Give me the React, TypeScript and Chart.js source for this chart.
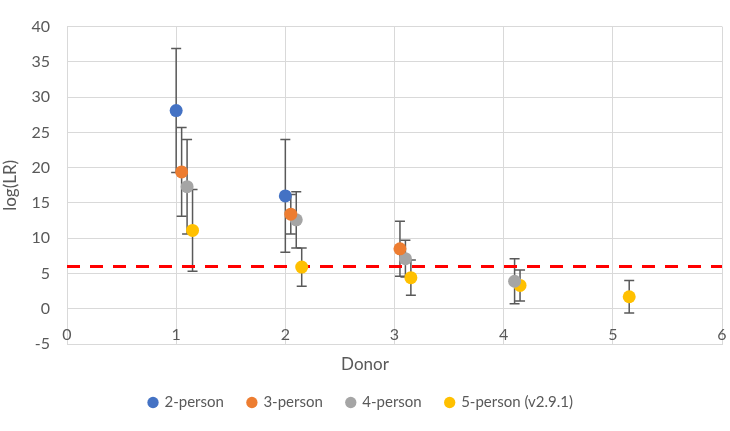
import React, { useEffect, useRef } from "react";
import { Chart, registerables } from "chart.js";

Chart.register(...registerables);

// ---- data ----
const seriesNames = ["2-person", "3-person", "4-person", "5-person (v2.9.1)"];
const seriesColors = ["#4472C4", "#ED7D31", "#A5A5A5", "#FFC000"];

const twoPersonX = [1, 2];
const twoPersonY = [28.1, 16.0];
const twoPersonErr = [8.8, 8.0];

const threePersonX = [1.05, 2.05, 3.05];
const threePersonY = [19.4, 13.4, 8.5];
const threePersonErr = [6.3, 2.8, 3.9];

const fourPersonX = [1.1, 2.1, 3.1, 4.1];
const fourPersonY = [17.3, 12.6, 7.1, 3.9];
const fourPersonErr = [6.7, 4.0, 2.6, 3.2];

const fivePersonX = [1.15, 2.15, 3.15, 4.15, 5.15];
const fivePersonY = [11.1, 5.9, 4.4, 3.3, 1.7];
const fivePersonErr = [5.8, 2.7, 2.5, 2.2, 2.3];

const thresholdY = 6;
const xMin = 0;
const xMax = 6;
const xStep = 1;
const yMin = -5;
const yMax = 40;
const yStep = 5;

const xTitle = "Donor";
const yTitle = "log(LR)";

const FONT = "Lato, 'Open Sans', sans-serif";
const TEXT = "#595959";
const GRID = "#d9d9d9";

const seriesX = [twoPersonX, threePersonX, fourPersonX, fivePersonX];
const seriesY = [twoPersonY, threePersonY, fourPersonY, fivePersonY];
const seriesErr = [twoPersonErr, threePersonErr, fourPersonErr, fivePersonErr];

const errorBarPlugin = {
  id: "errorBars",
  beforeDatasetsDraw(chart: any) {
    const { ctx } = chart;
    const x = chart.scales.x;
    const y = chart.scales.y;
    ctx.save();
    ctx.strokeStyle = "#595959";
    ctx.lineWidth = 1.5;
    chart.data.datasets.forEach((ds: any, i: number) => {
      if (!ds.errors || !chart.isDatasetVisible(i)) return;
      ds.data.forEach((p: any, j: number) => {
        const e = ds.errors[j];
        const px = x.getPixelForValue(p.x);
        const top = y.getPixelForValue(p.y + e);
        const bot = y.getPixelForValue(p.y - e);
        ctx.beginPath();
        ctx.moveTo(px, top);
        ctx.lineTo(px, bot);
        ctx.moveTo(px - 5, top);
        ctx.lineTo(px + 5, top);
        ctx.moveTo(px - 5, bot);
        ctx.lineTo(px + 5, bot);
        ctx.stroke();
      });
    });
    ctx.restore();
  },
};

const xLabelPlugin = {
  id: "xAxisLabelsAtZero",
  afterDraw(chart: any) {
    const { ctx, chartArea } = chart;
    const x = chart.scales.x;
    const y = chart.scales.y;
    const y0 = y.getPixelForValue(0);
    ctx.save();
    ctx.fillStyle = TEXT;
    ctx.font = `16px ${FONT}`;
    ctx.textAlign = "center";
    ctx.textBaseline = "middle";
    x.ticks.forEach((t: any) => {
      ctx.fillText(String(t.value), x.getPixelForValue(t.value), y0 + 26);
    });
    // axis title, centred on the whole chart as in the original
    ctx.font = `17px ${FONT}`;
    ctx.fillText(xTitle, chart.width / 2, chartArea.bottom + 21);
    ctx.restore();
  },
};

export default function App() {
  const ref = useRef<HTMLCanvasElement | null>(null);

  useEffect(() => {
    if (!ref.current) return;
    const datasets: any[] = seriesNames.map((name, i) => ({
      type: "scatter",
      label: name,
      data: seriesX[i].map((xv, j) => ({ x: xv, y: seriesY[i][j] })),
      errors: seriesErr[i],
      backgroundColor: seriesColors[i],
      borderColor: seriesColors[i],
      pointRadius: 6.5,
      pointHoverRadius: 6.5,
      pointStyle: "circle",
      borderWidth: 0,
      order: 1,
    }));
    datasets.push({
      type: "line",
      label: "threshold",
      data: [
        { x: xMin, y: thresholdY },
        { x: xMax, y: thresholdY },
      ],
      borderColor: "#FF0000",
      borderWidth: 3,
      borderDash: [13, 10],
      pointRadius: 0,
      fill: false,
      order: 5,
    });

    const chart = new Chart(ref.current, {
      type: "scatter",
      data: { datasets },
      plugins: [errorBarPlugin, xLabelPlugin],
      options: {
        animation: false,
        responsive: false,
        maintainAspectRatio: false,
        layout: { padding: { left: 0, top: 9, right: 8, bottom: 11 } },
        plugins: {
          tooltip: { enabled: false },
          legend: {
            position: "bottom",
            labels: {
              usePointStyle: true,
              pointStyle: "circle",
              boxWidth: 8,
              boxHeight: 8,
              padding: 24,
              color: TEXT,
              font: { family: FONT, size: 15 },
              filter: (item: any) => item.text !== "threshold",
            },
          },
        },
        scales: {
          x: {
            type: "linear",
            min: xMin,
            max: xMax,
            ticks: { stepSize: xStep, display: false },
            grid: { color: GRID, drawTicks: false, lineWidth: 1 },
            border: { display: true, color: GRID },
            title: { display: false },
            afterFit: (scale: any) => {
              scale.height = 27;
            },
          },
          y: {
            type: "linear",
            min: yMin,
            max: yMax,
            ticks: {
              stepSize: yStep,
              color: TEXT,
              font: { family: FONT, size: 16 },
              padding: 17,
            },
            grid: { color: GRID, drawTicks: false, lineWidth: 1 },
            border: { display: true, color: GRID },
            title: {
              display: true,
              text: yTitle,
              color: TEXT,
              font: { family: FONT, size: 17 },
              padding: 0,
            },
            afterFit: (scale: any) => {
              scale.width = 67;
            },
          },
        },
      },
    });
    return () => chart.destroy();
  }, []);

  return (
    <div style={{ position: "fixed", left: 0, top: 0, width: 730, height: 431, background: "#fff" }}>
      <canvas ref={ref} width={730} height={431} style={{ display: "block" }} />
    </div>
  );
}
